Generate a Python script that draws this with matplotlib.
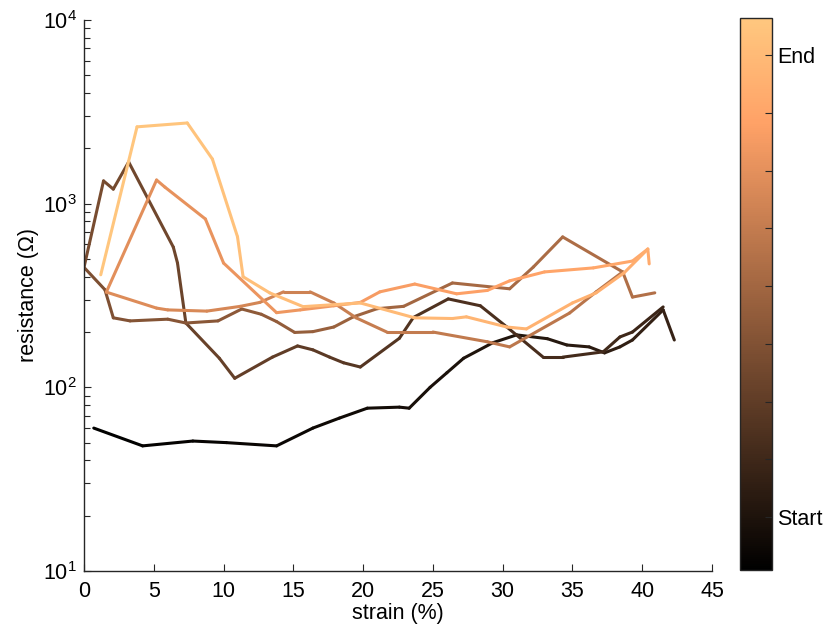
import numpy as np
import matplotlib
matplotlib.use("Agg")
import matplotlib.pyplot as plt
from matplotlib.collections import LineCollection
from matplotlib.cm import ScalarMappable
from matplotlib.colors import Normalize

# ---------------- data (strain %, resistance ohm), in time order ----------------
leg1_strain = [0.7, 4.2, 7.8, 10.2, 13.8, 16.4, 18.3, 20.3, 22.6, 23.3, 24.8, 26.0, 27.2,
               29.3, 31.0, 33.2, 34.6, 36.2, 37.3, 38.4, 39.3, 41.5, 42.3]
leg1_res = [60, 48, 51, 50, 48, 60, 68, 77, 78, 77, 100, 120, 144,
            175, 193, 184, 170, 166, 154, 166, 181, 264, 181]

leg2_strain = [41.5, 39.3, 38.4, 37.2, 34.3, 32.9, 30.3, 28.4, 26.1, 23.6, 22.6, 19.8, 18.6,
               17.6, 16.4, 15.3, 13.5, 10.8, 9.7, 7.3, 6.7, 6.4, 3.2, 2.1, 1.4, 0.0]
leg2_res = [274, 200, 188, 156, 146, 146, 213, 278, 303, 240, 185, 129, 136,
            146, 160, 168, 146, 112, 144, 224, 475, 580, 1687, 1200, 1330, 450]

leg3_strain = [0.0, 1.5, 2.1, 3.3, 6.0, 7.3, 9.6, 11.3, 12.7, 13.8, 15.1, 16.4, 17.9,
               19.3, 21.0, 22.9, 26.4, 30.5, 32.2, 34.3, 38.6, 39.3, 40.9]
leg3_res = [450, 340, 239, 230, 235, 224, 230, 267, 250, 228, 199, 201, 213,
            242, 268, 276, 370, 344, 452, 659, 425, 310, 327]

leg4_strain = [38.6, 36.7, 34.8, 30.5, 28.9, 25.0, 21.7, 19.5, 17.9, 16.2, 14.3, 12.6,
               11.2, 8.8, 6.0, 5.2, 1.6]
leg4_res = [425, 331, 254, 166, 177, 200, 200, 239, 288, 331, 331, 290,
            276, 260, 264, 270, 330]

leg5_strain = [1.6, 5.2, 5.8, 8.7, 10.0, 13.8, 15.5, 17.9, 19.8, 21.2, 23.7, 26.7, 28.9,
               30.5, 33.0, 36.5, 39.3, 40.4, 40.5]
leg5_res = [330, 1345, 1230, 825, 475, 255, 264, 278, 290, 331, 365, 323, 337,
            380, 425, 447, 487, 566, 470]

leg6_strain = [40.4, 38.7, 36.7, 35.0, 31.7, 30.3, 27.4, 26.4, 23.7, 19.8, 15.7, 13.3,
               11.4, 11.0, 9.2, 7.4, 3.8, 1.2]
leg6_res = [566, 420, 327, 288, 208, 213, 242, 237, 239, 288, 275, 327,
            400, 660, 1750, 2750, 2620, 410]

legs = [(leg1_strain, leg1_res), (leg2_strain, leg2_res), (leg3_strain, leg3_res),
        (leg4_strain, leg4_res), (leg5_strain, leg5_res), (leg6_strain, leg6_res)]

cbar_tick_labels = ["Start", "", "", "", "", "", "", "", "End"]

# ---------------- style ----------------
fam = "Liberation Sans"
fs = 15.5
plt.rcParams["font.family"] = [fam, "DejaVu Sans"]
plt.rcParams["mathtext.fontset"] = "custom"
plt.rcParams["mathtext.rm"] = fam
axcol = "#262626"

fig = plt.figure(figsize=(8.26, 6.27), dpi=100)
ax = fig.add_axes([84 / 826, 1 - 571 / 627, (712 - 84) / 826, (571 - 20) / 627])
cax = fig.add_axes([740 / 826, 1 - 570 / 627, 32 / 826, (570 - 18) / 627])

cmap = plt.get_cmap("copper")
total = sum(len(s) for s, _ in legs)
idx = 0
for s, r in legs:
    pts = np.column_stack([s, r])
    segs = np.stack([pts[:-1], pts[1:]], axis=1)
    n = len(s)
    t = (idx + np.arange(n - 1) + 0.5) / (total - 1)
    lc = LineCollection(segs, colors=cmap(t), linewidths=2.2, capstyle="round",
                        joinstyle="round")
    ax.add_collection(lc)
    idx += n

ax.set_yscale("log")
ax.set_xlim(0, 45)
ax.set_ylim(10, 1e4)
ax.set_xticks(np.arange(0, 46, 5))
for sp in ["top", "right"]:
    ax.spines[sp].set_visible(False)
for sp in ["left", "bottom"]:
    ax.spines[sp].set_color(axcol)
    ax.spines[sp].set_linewidth(1.0)
ax.tick_params(which="both", direction="in", colors=axcol, labelcolor="black",
               labelsize=fs)
ax.tick_params(which="major", length=5, width=0.8, pad=5)
ax.tick_params(axis="x", which="major", pad=7)
ax.tick_params(which="minor", length=4, width=0.8)
ax.set_xlabel("strain (%)", fontsize=fs, labelpad=1)
ax.set_ylabel("resistance (\u03a9)", fontsize=fs, labelpad=3)

sm = ScalarMappable(norm=Normalize(0, 1), cmap=cmap)
cb = fig.colorbar(sm, cax=cax)
ticks = np.linspace((570 - 517) / 552, (570 - 55) / 552, len(cbar_tick_labels))
cb.set_ticks(ticks)
cb.set_ticklabels(cbar_tick_labels)
cb.outline.set_edgecolor(axcol)
cb.outline.set_linewidth(1.0)
cax.tick_params(direction="in", length=5, width=0.8, colors=axcol, labelcolor="black",
                labelsize=fs, pad=4)
cax.minorticks_off()

fig.savefig("out.png", dpi=100)
